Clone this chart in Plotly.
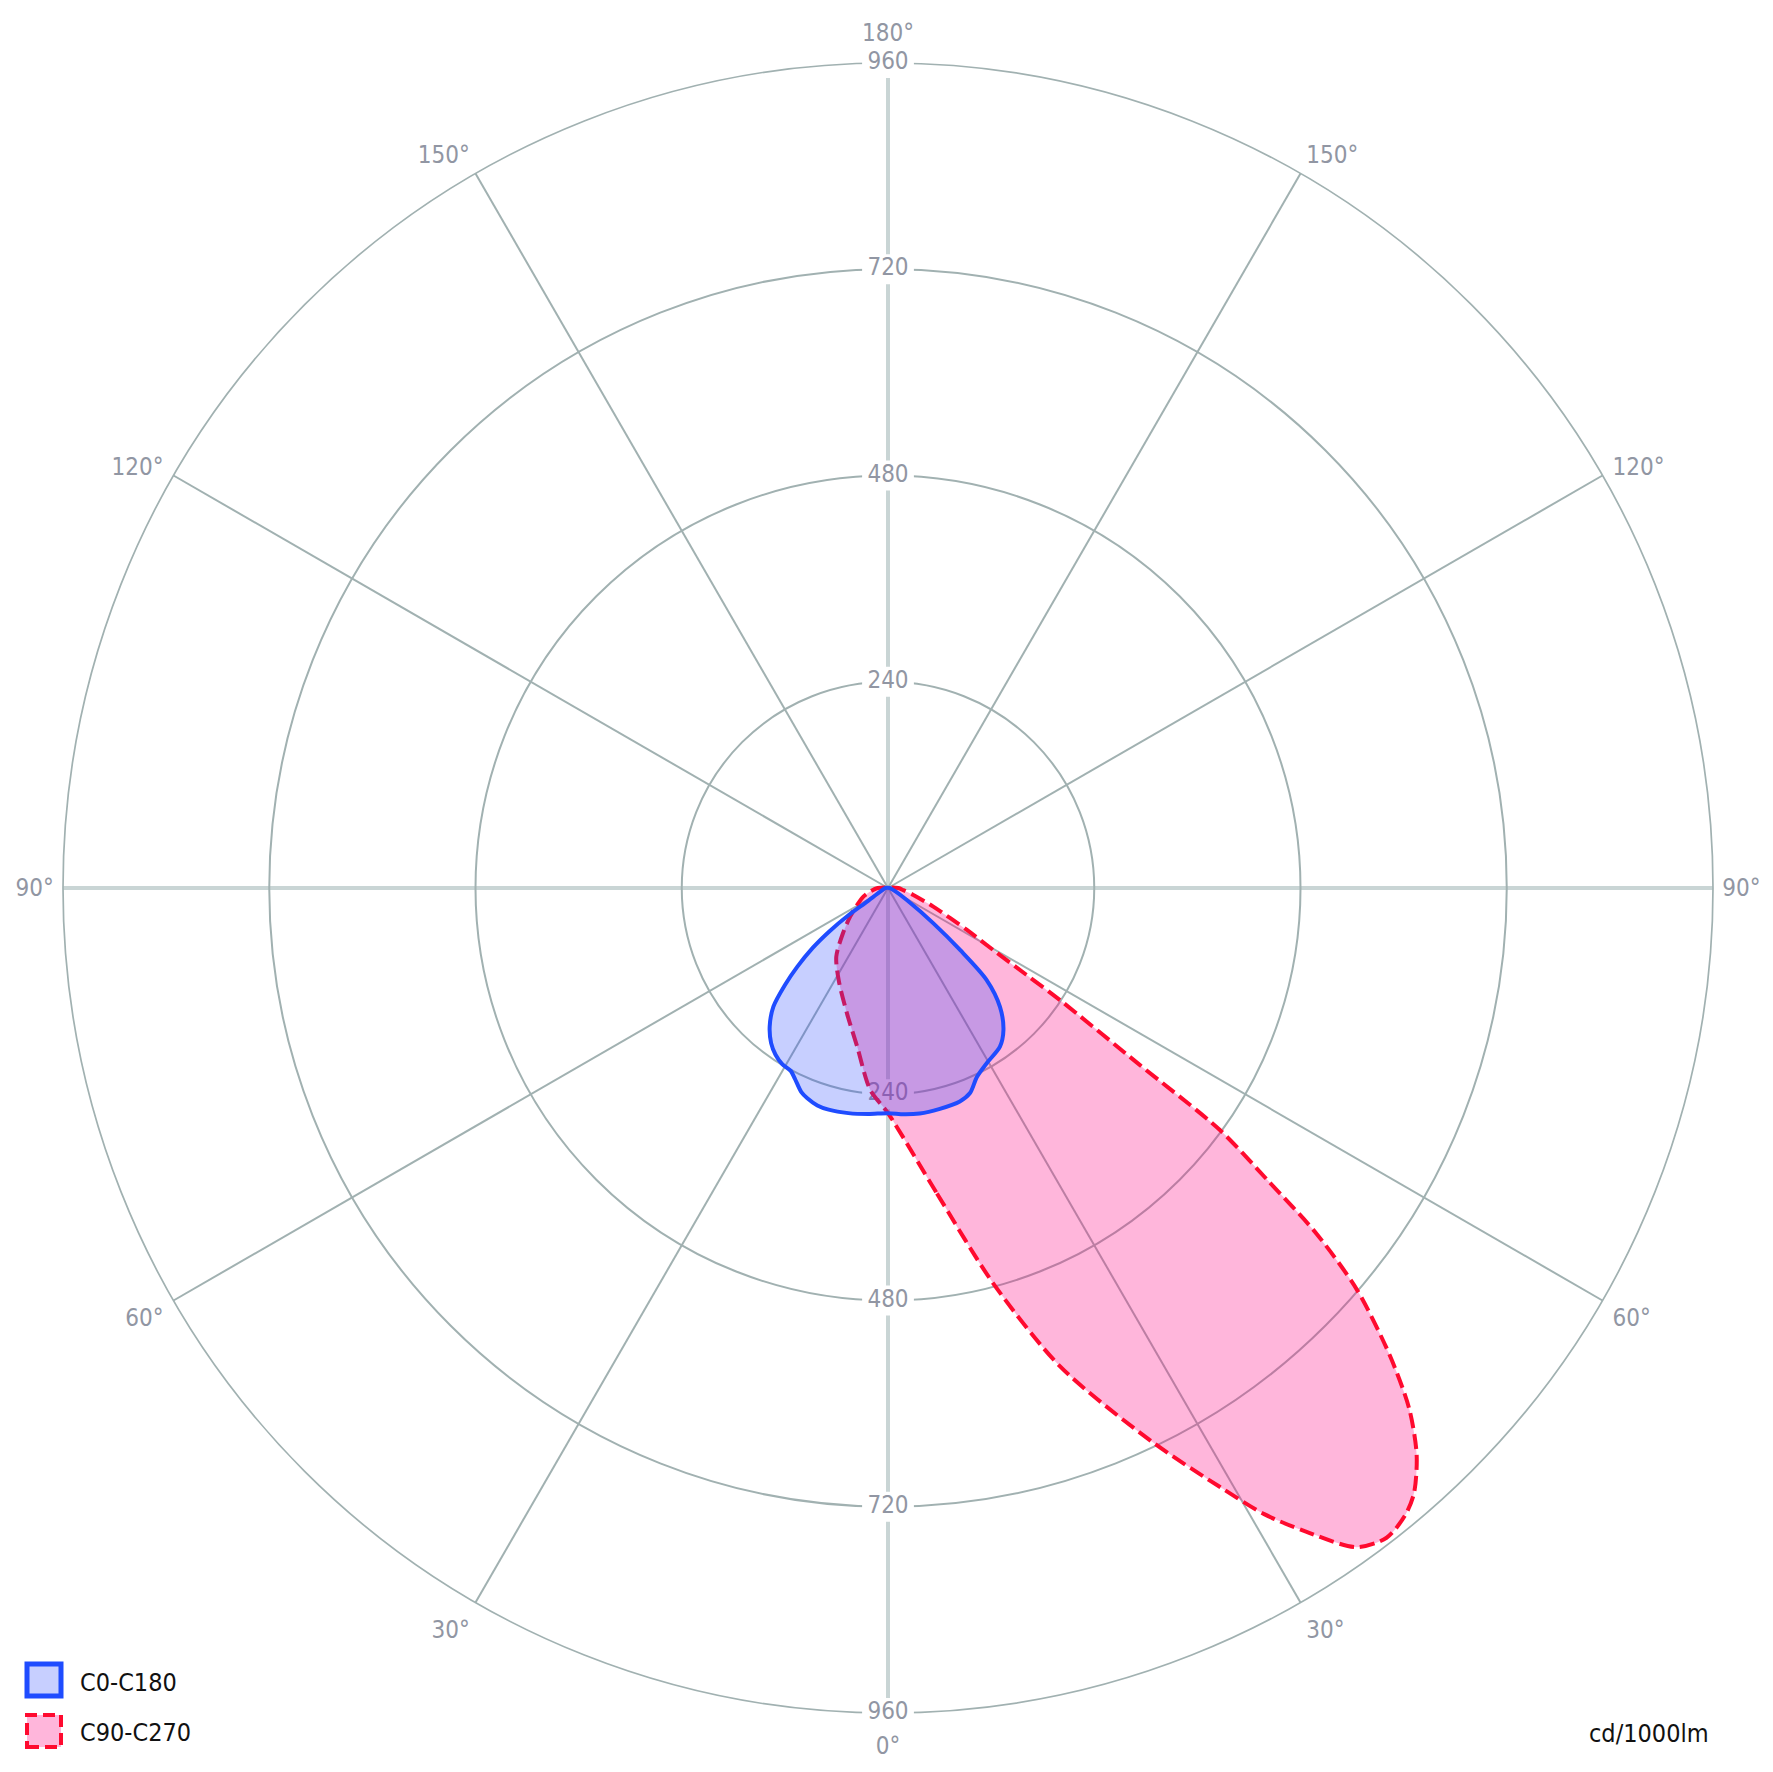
import plotly.graph_objects as go

# ---------------- data (gamma in degrees from nadir, intensity in cd/1000lm) -------------
# C0-C180 plane (blue, solid)
gamma_c0 = [0, 4, 8, 13, 18.6, 21.8, 25.2, 29.4, 35.2, 39.1, 43.3, 47, 49.3, 52.1, 57.3, 69, 90]
cd_c0 = [262, 264, 265, 264, 262, 257, 243, 234, 226, 213, 190, 157, 111, 67, 26, 7, 2]
gamma_c180 = [0, 5, 10, 15, 18, 21, 23, 26, 28, 31, 34, 37, 40.5, 44, 46.7, 49, 51.5, 53.5, 55.5, 57, 65, 90]
cd_c180 = [262, 264, 266, 267, 266, 262, 258, 247, 241, 239, 234, 226, 212, 192, 165, 140, 112, 85, 55, 30, 10, 3]

# C90-C270 plane (red, dashed)
gamma_c90 = [0, 9.1, 14.9, 19.8, 25.5, 29, 31, 33, 35.4, 37.5, 39.5, 41, 43, 45, 47, 49.4,
             51.1, 52.4, 53.9, 54.9, 56.9, 57.9, 59.5, 62, 67.6, 75, 82, 90]
cd_c90 = [262, 360, 476, 592, 714, 797, 850, 893, 941, 953, 946, 933, 902, 858, 799, 719,
          641, 558, 478, 358, 239, 190, 142, 104, 57, 30, 18, 12]
gamma_c270 = [0, 5, 11, 18, 28, 37, 45, 53, 62, 71, 80, 90]
cd_c270 = [262, 236, 188, 154, 122, 100, 74, 55, 40, 30, 20, 12]

radial_ticks = [240, 480, 720, 960]
radial_labels = ["240", "480", "720", "960"]
vertical_angles = [0, 180]
vertical_labels = ["0°", "180°"]
horizontal_angles = [90, 270]
horizontal_labels = ["90°", "90°"]
minor_angles = [30, 60, 120, 150, 210, 240, 300, 330]
minor_labels = ["30°", "60°", "120°", "150°", "150°", "120°", "60°", "30°"]

series_names = ["C0-C180", "C90-C270"]
unit_label = "cd/1000lm"

# ---------------- styling -------------
OFF = 8                      # page body margin
W, H = 1773 - 2 * OFF, 1772 - 2 * OFF
FONT = "DejaVu Sans Condensed, DejaVu Sans, sans-serif"
TICK_COLOR = "#9196a3"
GRID_THIN = "#a1b1b1"
GRID_THICK = "#c9d5d5"
BLUE_LINE = "#1f4cff"
BLUE_FILL = "rgba(40,70,255,0.26)"
RED_LINE = "#ff0a2f"
RED_FILL = "rgba(255,0,128,0.285)"
DASH = "15px,6px"

cx, cy, R = 888 - OFF, 888 - OFF, 825
dom_x = [(cx - R) / W, (cx + R) / W]
dom_y = [1 - (cy + R) / H, 1 - (cy - R) / H]


def px(x):
    return (x - OFF) / W


def py(y):
    return 1 - (y - OFF) / H


def closed_curve(g_right, v_right, g_left, v_left):
    theta = list(g_right) + [360 - g for g in reversed(g_left)]
    r = list(v_right) + list(reversed(v_left))
    return theta, r


th_blue, r_blue = closed_curve(gamma_c0, cd_c0, gamma_c180, cd_c180)
th_red, r_red = closed_curve(gamma_c90, cd_c90, gamma_c270, cd_c270)

label_theta = [180] * len(radial_ticks) + [0] * len(radial_ticks)
label_r = radial_ticks + radial_ticks
label_text = radial_labels + radial_labels

fig = go.Figure()

# anchor traces so the two bottom polars (thick main axes) are drawn
for sp in ["polar", "polar2"]:
    fig.add_trace(go.Scatterpolar(
        r=[0], theta=[0], mode="markers", subplot=sp,
        marker=dict(size=1, color="rgba(0,0,0,0)"), hoverinfo="skip", showlegend=False))

# mask behind radial labels (hides grid, stays below fills)
fig.add_trace(go.Scatterpolar(
    r=label_r, theta=label_theta, mode="markers", subplot="polar3",
    marker=dict(symbol="line-ew", size=37, color="white",
                line=dict(color="white", width=30)),
    hoverinfo="skip", showlegend=False))

# radial labels
fig.add_trace(go.Scatterpolar(
    r=label_r, theta=label_theta, mode="text", text=label_text, subplot="polar3",
    textfont=dict(family=FONT, size=24, color=TICK_COLOR),
    hoverinfo="skip", showlegend=False))

# C90-C270 (drawn first, below blue)
fig.add_trace(go.Scatterpolar(
    r=r_red, theta=th_red, mode="lines", fill="toself", subplot="polar3",
    fillcolor=RED_FILL, name=series_names[1],
    line=dict(color=RED_LINE, width=4, dash=DASH, shape="spline", smoothing=0.8),
    showlegend=False))

# C0-C180
fig.add_trace(go.Scatterpolar(
    r=r_blue, theta=th_blue, mode="lines", fill="toself", subplot="polar3",
    fillcolor=BLUE_FILL, name=series_names[0],
    line=dict(color=BLUE_LINE, width=4, shape="spline", smoothing=0.8),
    showlegend=False))

common_angular = dict(rotation=270, direction="counterclockwise", tickmode="array",
                      tickfont=dict(family=FONT, size=24, color=TICK_COLOR),
                      ticks="outside", tickcolor="rgba(0,0,0,0)",
                      layer="below traces")
hidden_radial = dict(range=[0, 960], showgrid=False, showticklabels=False, showline=False,
                     ticks="", layer="below traces")

fig.update_layout(
    width=W, height=H,
    margin=dict(l=0, r=0, t=0, b=0),
    paper_bgcolor="white",
    showlegend=False,
    polar=dict(
        domain=dict(x=dom_x, y=dom_y),
        bgcolor="white",
        angularaxis=dict(common_angular, tickvals=vertical_angles, ticktext=vertical_labels,
                         ticklen=12, showgrid=True, gridcolor=GRID_THICK, gridwidth=3.5,
                         showline=False),
        radialaxis=hidden_radial,
    ),
    polar2=dict(
        domain=dict(x=dom_x, y=dom_y),
        bgcolor="rgba(0,0,0,0)",
        angularaxis=dict(common_angular, tickvals=horizontal_angles, ticktext=horizontal_labels,
                         ticklen=4, showgrid=True, gridcolor=GRID_THICK, gridwidth=3.5,
                         showline=False),
        radialaxis=hidden_radial,
    ),
    polar3=dict(
        domain=dict(x=dom_x, y=dom_y),
        bgcolor="rgba(0,0,0,0)",
        angularaxis=dict(common_angular, tickvals=minor_angles, ticktext=minor_labels,
                         ticklen=6, showgrid=True, gridcolor=GRID_THIN, gridwidth=1.5,
                         showline=True, linecolor=GRID_THIN, linewidth=1.7),
        radialaxis=dict(range=[0, 960], tickmode="array", tickvals=radial_ticks[:-1],
                        showgrid=True, gridcolor=GRID_THIN, gridwidth=1.6,
                        showticklabels=False, showline=False, ticks="", layer="below traces"),
    ),
)

# custom legend (square swatches like the reference) and unit label
fig.add_shape(type="rect", xref="paper", yref="paper",
              x0=px(27), x1=px(61), y0=py(1696), y1=py(1664),
              line=dict(color=BLUE_LINE, width=5), fillcolor=BLUE_FILL)
fig.add_shape(type="rect", xref="paper", yref="paper",
              x0=px(27), x1=px(61), y0=py(1747), y1=py(1715),
              line=dict(color=RED_LINE, width=4, dash="12px,6px"), fillcolor=RED_FILL)
fig.add_annotation(x=px(78), y=py(1682), xref="paper", yref="paper", showarrow=False,
                   text=series_names[0], xanchor="left", yanchor="middle",
                   font=dict(family=FONT, size=25, color="#111111"))
fig.add_annotation(x=px(78), y=py(1732), xref="paper", yref="paper", showarrow=False,
                   text=series_names[1], xanchor="left", yanchor="middle",
                   font=dict(family=FONT, size=25, color="#111111"))
fig.add_annotation(x=px(1711), y=py(1733), xref="paper", yref="paper", showarrow=False,
                   text=unit_label, xanchor="right", yanchor="middle",
                   font=dict(family=FONT, size=25, color="#111111"))

fig.write_html("out.html")
